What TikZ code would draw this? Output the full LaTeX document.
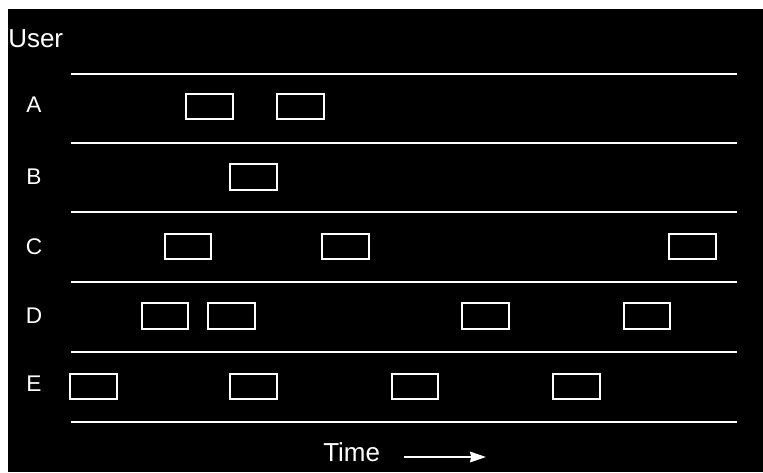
\documentclass[tikz,border=0pt]{standalone}
\usepackage{fontspec}
\setmainfont{Liberation Sans}
\usetikzlibrary{arrows.meta}
\begin{document}
\begin{tikzpicture}[x=0.75pt,y=-0.75pt,
  lane/.style={draw=white,line width=1.5pt},
  slot/.style={draw=white,line width=1.5pt,minimum width=35pt,minimum height=19pt,inner sep=0pt},
  lbl/.style={text=white,font=\fontsize{17}{19}\selectfont,inner sep=0pt},
  big/.style={text=white,font=\fontsize{19.5}{21}\selectfont,inner sep=0pt}]
\useasboundingbox (0,0) rectangle (763,472);
\fill[white] (0,0) rectangle (763,472);
\fill[black] (8,9) rectangle (763,472);
% lanes
\foreach \y in {74,143,212,282,352,422}{
  \draw[lane] (71,\y) -- (737,\y);
}
% labels
\node[big,anchor=base west] (user) at (8,47) {User};
\node[lbl] (la) at (34,105) {A};
\node[lbl] (lb) at (34,177) {B};
\node[lbl] (lc) at (34,247) {C};
\node[lbl] (ld) at (34,316) {D};
\node[lbl] (le) at (34,384) {E};
% slots
\node[slot] (a1) at (209.5,106.5) {};
\node[slot] (a2) at (300.5,106.5) {};
\node[slot] (b1) at (253.5,177) {};
\node[slot] (c1) at (188,246.5) {};
\node[slot] (c2) at (345.5,246.5) {};
\node[slot] (c3) at (692.5,246.5) {};
\node[slot] (d1) at (165,316) {};
\node[slot] (d2) at (231.5,316) {};
\node[slot] (d3) at (485.5,316) {};
\node[slot] (d4) at (647,316) {};
\node[slot] (e1) at (93.5,386.5) {};
\node[slot] (e2) at (253.5,386.5) {};
\node[slot] (e3) at (415,386.5) {};
\node[slot] (e4) at (576.5,386.5) {};
% time axis
\node[big,anchor=base west] (time) at (323,461) {Time};
\coordinate (ts) at (404,457);
\coordinate (te) at (486,457);
\draw[white,line width=1.5pt,-{Stealth[length=12pt,width=8pt,inset=1pt]}] (ts) -- (te);
\end{tikzpicture}
\end{document}
